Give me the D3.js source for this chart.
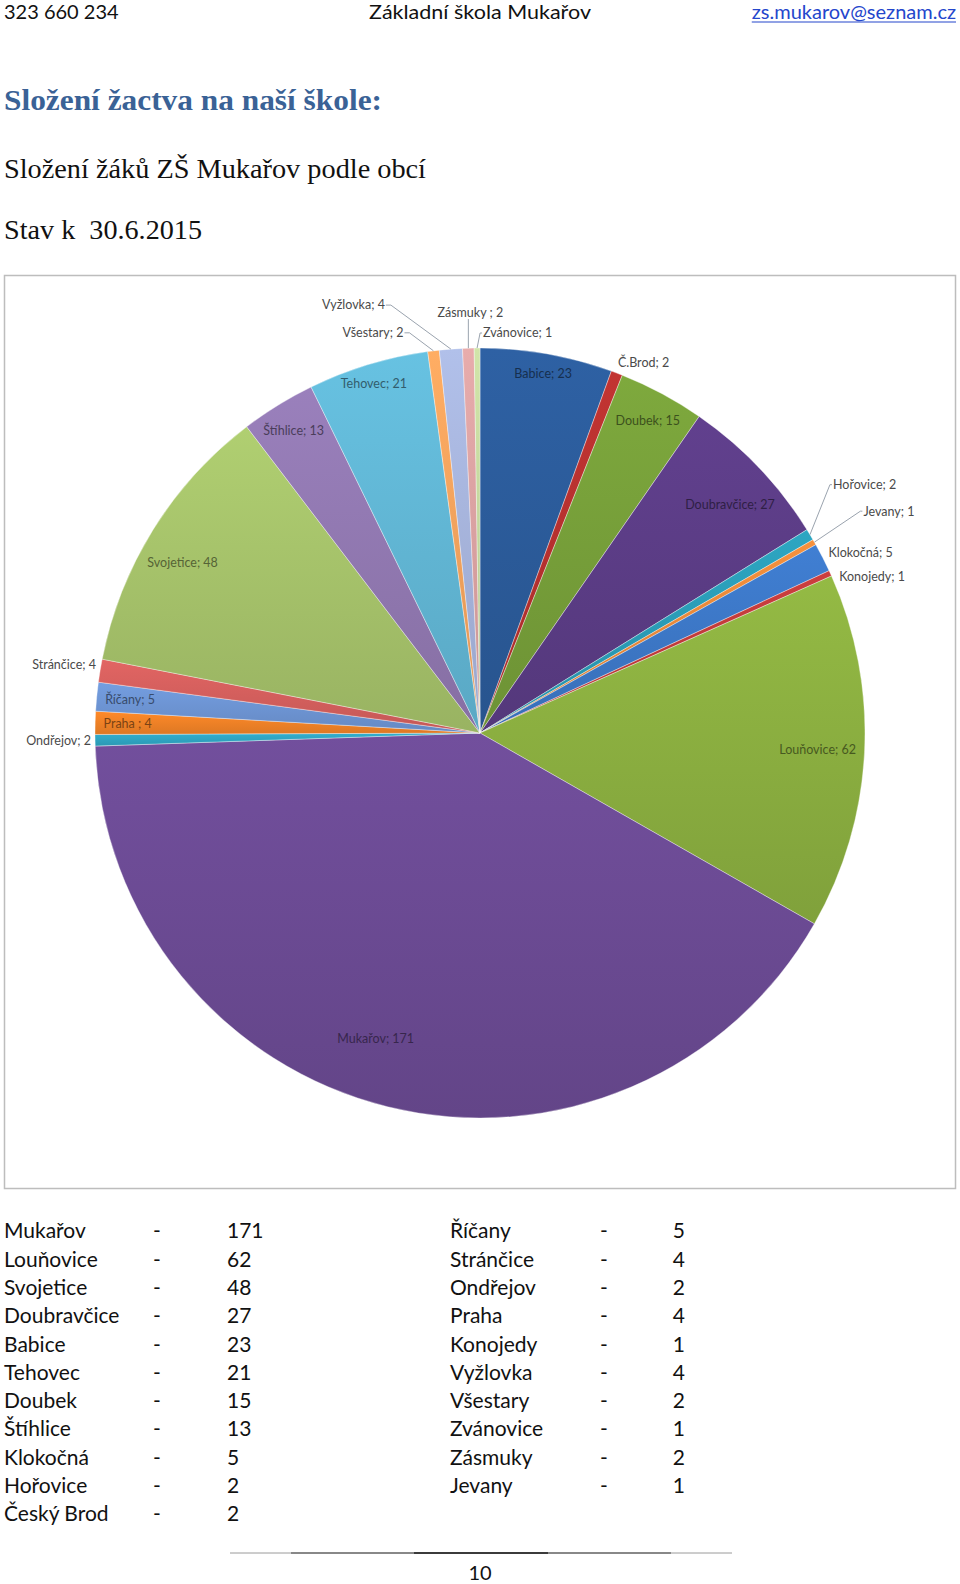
<!DOCTYPE html>
<html>
<head>
<meta charset="utf-8">
<script src="https://cdn.jsdelivr.net/npm/d3@7"></script>
<style>
  html, body { margin: 0; padding: 0; background: #fff; }
  svg { display: block; }
</style>
</head>
<body>
<svg id="page" width="960" height="1584"></svg>
<script>
// ---------- DATA ----------
const categories = ["Babice","Č.Brod","Doubek","Doubravčice","Hořovice","Jevany","Klokočná","Konojedy","Louňovice","Mukařov","Ondřejov","Praha ","Říčany","Stránčice","Svojetice","Štíhlice","Tehovec","Všestary","Vyžlovka","Zásmuky ","Zvánovice"];
const values = [23,2,15,27,2,1,5,1,62,171,2,4,5,4,48,13,21,2,4,2,1];
const sliceColors = ["#2C5C9B","#B8312F","#77A03A","#5C3D87","#2B9DB8","#E9893A","#3D78C8","#C23B3B","#8CB040","#6C4B95","#2FA6C4","#F28327","#6E96D5","#D6605E","#A7C46B","#9279B2","#62B8D6","#F6A45E","#A8B6DE","#DCA3A3","#C6D9A0"];

const tableLeftNames = ["Mukařov","Louňovice","Svojetice","Doubravčice","Babice","Tehovec","Doubek","Štíhlice","Klokočná","Hořovice","Český Brod"];
const tableLeftValues = [171,62,48,27,23,21,15,13,5,2,2];
const tableRightNames = ["Říčany","Stránčice","Ondřejov","Praha","Konojedy","Vyžlovka","Všestary","Zvánovice","Zásmuky","Jevany"];
const tableRightValues = [5,4,2,4,1,4,2,1,2,1];

const headerLeft = "323 660 234";
const headerCenter = "Základní škola Mukařov";
const headerRight = "zs.mukarov@seznam.cz";
const titleText = "Složení žactva na naší škole:";
const subtitleText = "Složení žáků ZŠ Mukařov podle obcí";
const dateText = "Stav k  30.6.2015";
const pageNumber = "10";

// ---------- LAYOUT CONFIG ----------
const insideLabels = ["Babice","Doubek","Doubravčice","Louňovice","Mukařov","Praha ","Říčany","Svojetice","Štíhlice","Tehovec"];
const outsideLabels = ["Č.Brod","Klokočná","Konojedy","Ondřejov","Stránčice"];
// leader labels: offset of text anchor from the slice's outer edge point
const leaderLabels = {
  "Hořovice":  {dx: 23,  dy: -50, anchor: "start"},
  "Jevany":    {dx: 49,  dy: -31, anchor: "start"},
  "Vyžlovka":  {dx: -66, dy: -44, anchor: "end"},
  "Všestary":  {dx: -30, dy: -18, anchor: "end"},
  "Zásmuky ":  {dx: 2,   dy: -36, anchor: "middle"},
  "Zvánovice": {dx: 6,   dy: -15, anchor: "start"}
};
const insidePadOverride = {"Mukařov": 42, "Tehovec": 3};
const angleShiftOverride = {"Mukařov": 5, "Č.Brod": 3, "Klokočná": 1.8, "Konojedy": 2.8, "Svojetice": -2, "Doubravčice": 1.2};

const svg = d3.select("#page");

// ---------- HEADER ----------
const sans = "Lato, 'Open Sans', sans-serif";
svg.append("text").attr("x", 4).attr("y", 19).attr("font-family", sans).attr("font-size", 20).attr("fill", "#111").text(headerLeft);
svg.append("text").attr("x", 480).attr("y", 19).attr("text-anchor", "middle").attr("font-family", sans).attr("font-size", 20).attr("fill", "#111")
  .attr("textLength", 222).attr("lengthAdjust", "spacingAndGlyphs").text(headerCenter);
const email = svg.append("text").attr("x", 956).attr("y", 19).attr("text-anchor", "end").attr("font-family", sans).attr("font-size", 20).attr("fill", "#2446CC").text(headerRight);
const eb = email.node().getBBox();
svg.append("line").attr("x1", eb.x).attr("x2", eb.x + eb.width).attr("y1", 22).attr("y2", 22).attr("stroke", "#2446CC").attr("stroke-width", 1.2);

svg.append("text").attr("x", 4).attr("y", 110).attr("font-family", "'Liberation Serif', 'DejaVu Serif', serif")
  .attr("font-weight", "bold").attr("font-size", 29).attr("fill", "#3A6296")
  .attr("textLength", 378).attr("lengthAdjust", "spacingAndGlyphs").text(titleText);
svg.append("text").attr("x", 4).attr("y", 178).attr("font-family", "'Liberation Serif', serif")
  .attr("font-size", 28).attr("fill", "#111")
  .attr("textLength", 422).attr("lengthAdjust", "spacingAndGlyphs").text(subtitleText);
svg.append("text").attr("x", 4).attr("y", 239).attr("font-family", "'Liberation Serif', serif")
  .attr("font-size", 28).attr("fill", "#111").style("white-space", "pre")
  .attr("textLength", 198).attr("lengthAdjust", "spacingAndGlyphs").text(dateText);

// ---------- CHART FRAME ----------
svg.append("rect").attr("x", 4.5).attr("y", 275.5).attr("width", 951).attr("height", 913)
  .attr("fill", "#fff").attr("stroke", "#BDBDBD").attr("stroke-width", 1.5);

// ---------- PIE ----------
const cx = 480, cy = 733, R = 385;
const data = categories.map((c, i) => ({name: c, value: values[i], color: sliceColors[i]}));
const pie = d3.pie().value(d => d.value).sort(null);
const arcs = pie(data);
const arc = d3.arc().innerRadius(0).outerRadius(R);

const defs = svg.append("defs");
arcs.forEach((a, i) => {
  const g = defs.append("linearGradient").attr("id", "grad" + i)
    .attr("x1", 0).attr("y1", 0).attr("x2", 0).attr("y2", 1);
  const c = d3.color(a.data.color);
  g.append("stop").attr("offset", "0%").attr("stop-color", c.brighter(0.15).formatHex());
  g.append("stop").attr("offset", "100%").attr("stop-color", c.darker(0.25).formatHex());
});

const pg = svg.append("g").attr("transform", `translate(${cx},${cy})`);
pg.selectAll("path.slice").data(arcs).join("path")
  .attr("class", "slice")
  .attr("d", arc)
  .attr("fill", (d, i) => `url(#grad${i})`)
  .attr("stroke", "rgba(255,255,255,0.45)")
  .attr("stroke-width", 0.8);

// ---------- LABELS ----------
const lg = pg.append("g");
const labelFont = 12.5;
function polar(theta, rho) { return [rho * Math.sin(theta), -rho * Math.cos(theta)]; }

arcs.forEach((a, i) => {
  const name = a.data.name;
  const txt = name + "; " + a.data.value;
  const mid = (a.startAngle + a.endAngle) / 2;
  const isInside = insideLabels.includes(name);
  const t = lg.append("text")
    .attr("font-family", sans)
    .attr("font-size", labelFont)
    .attr("fill", isInside ? d3.color(a.data.color).darker(1.9).formatHex() : "#4a4a4a")
    .text(txt);
  const bb = t.node().getBBox();
  const w = bb.width, h = labelFont * 1.0;

  if (leaderLabels[name]) {
    const L = leaderLabels[name];
    const [ex, ey] = polar(mid, R);
    const ax = ex + L.dx, ay = ey + L.dy;
    t.attr("x", ax).attr("y", ay).attr("dy", "0.35em").attr("text-anchor", L.anchor);
    let pts;
    if (L.anchor === "start") pts = [[ex, ey], [ax - 3, ay], [ax - 1, ay]];
    else if (L.anchor === "end") pts = [[ex, ey], [ax + 6, ay], [ax + 1, ay]];
    else pts = [[ex, ey], [ex, ay + h * 0.55]];
    lg.append("path").attr("d", d3.line()(pts)).attr("fill", "none")
      .attr("stroke", "#9AA3AE").attr("stroke-width", 1);
    return;
  }

  const theta = mid + (angleShiftOverride[name] || 0) * Math.PI / 180;
  let rho;
  if (isInside) {
    const pad = insidePadOverride[name] !== undefined ? insidePadOverride[name] : 8;
    rho = R;
    for (; rho > 0; rho -= 0.5) {
      const [px, py] = polar(theta, rho);
      let maxD = 0;
      [[-1,-1],[1,-1],[-1,1],[1,1]].forEach(([sx, sy]) => {
        const d = Math.hypot(px + sx * w / 2, py + sy * h / 2);
        if (d > maxD) maxD = d;
      });
      if (maxD <= R - pad) break;
    }
  } else {
    const gap = 4;
    rho = R;
    for (; rho < R + 200; rho += 0.5) {
      const [px, py] = polar(theta, rho);
      const nx = Math.max(Math.abs(px) - w / 2, 0);
      const ny = Math.max(Math.abs(py) - h / 2, 0);
      if (Math.hypot(nx, ny) >= R + gap) break;
    }
  }
  const [px, py] = polar(theta, rho);
  t.attr("x", px).attr("y", py).attr("dy", "0.35em").attr("text-anchor", "middle");
});

// ---------- TABLE ----------
const rowY = d3.scaleLinear().domain([0, 10]).range([1231, 1514]);
const tFont = 21;
function tableCol(names, vals, xName, xDash, xVal, valAnchor) {
  names.forEach((n, i) => {
    const y = rowY(i);
    svg.append("text").attr("x", xName).attr("y", y).attr("dy", "0.35em").attr("font-family", sans).attr("font-size", tFont).attr("fill", "#111").text(n);
    svg.append("text").attr("x", xDash).attr("y", y).attr("dy", "0.35em").attr("font-family", sans).attr("font-size", tFont).attr("fill", "#111").text("-");
    svg.append("text").attr("x", xVal).attr("y", y).attr("dy", "0.35em").attr("text-anchor", valAnchor).attr("font-family", sans).attr("font-size", tFont).attr("fill", "#111").text(vals[i]);
  });
}
tableCol(tableLeftNames, tableLeftValues, 4, 153, 227, "start");
tableCol(tableRightNames, tableRightValues, 450, 600, 685, "end");

// ---------- FOOTER ----------
svg.append("line").attr("x1", 230).attr("x2", 732).attr("y1", 1553).attr("y2", 1553).attr("stroke", "#9a9a9a").attr("stroke-width", 1);
svg.append("line").attr("x1", 291).attr("x2", 671).attr("y1", 1553).attr("y2", 1553).attr("stroke", "#444").attr("stroke-width", 1.2);
svg.append("line").attr("x1", 414).attr("x2", 548).attr("y1", 1553).attr("y2", 1553).attr("stroke", "#222").attr("stroke-width", 1.6);
svg.append("text").attr("x", 480).attr("y", 1580).attr("text-anchor", "middle").attr("font-family", sans).attr("font-size", 20).attr("fill", "#111").text(pageNumber);
</script>
</body>
</html>
